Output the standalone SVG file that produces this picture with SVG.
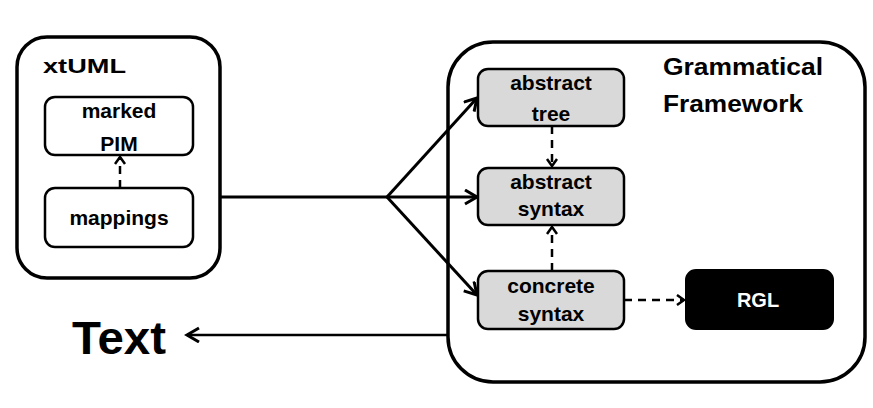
<svg xmlns="http://www.w3.org/2000/svg" width="873" height="408" viewBox="0 0 873 408">
<style>
  text { font-family: "Liberation Sans", Arial, sans-serif; font-weight: bold; fill: #000; }
  .lbl { text-anchor: middle; }
  .outer { fill: #fff; stroke: #000; stroke-width: 3.5; }
  .inner { fill: #fff; stroke: #000; stroke-width: 2.5; }
  .gf { fill: #d9d9d9; stroke: #000; stroke-width: 2.5; }
  .solid { fill: none; stroke: #000; stroke-width: 3; }
  .dash { fill: none; stroke: #000; stroke-width: 2.5; stroke-dasharray: 8 6; }
</style>
<defs>
  <marker id="ah" markerUnits="userSpaceOnUse" markerWidth="20" markerHeight="20" refX="13" refY="8" orient="auto">
    <path d="M1,1 L13,8 L1,15" fill="none" stroke="#000" stroke-width="3"/>
  </marker>
  <marker id="ahs" markerUnits="userSpaceOnUse" markerWidth="14" markerHeight="14" refX="8" refY="6" orient="auto">
    <path d="M1,1 L8,6 L1,11" fill="none" stroke="#000" stroke-width="2.5"/>
  </marker>
</defs>

<g id="xtuml">
  <rect class="outer" x="17" y="37" width="203" height="241" rx="30"/>
  <text x="43" y="73" font-size="21" textLength="83" lengthAdjust="spacingAndGlyphs">xtUML</text>
</g>
<g id="gf">
  <rect class="outer" x="448" y="42" width="417" height="340" rx="45"/>
  <text x="663" y="75" font-size="24" textLength="160" lengthAdjust="spacingAndGlyphs">Grammatical</text>
  <text x="663" y="112" font-size="24" textLength="140" lengthAdjust="spacingAndGlyphs">Framework</text>
</g>

<g id="connectors">
  <path class="solid" d="M220,197 H387"/>
  <path class="solid" d="M387,197 L477,98" marker-end="url(#ah)"/>
  <path class="solid" d="M387,197 L477,197" marker-end="url(#ah)"/>
  <path class="solid" d="M387,197 L477,295" marker-end="url(#ah)"/>
  <path class="dash" d="M120,188 V157" marker-end="url(#ahs)"/>
  <path class="dash" d="M552,126 V166" marker-end="url(#ahs)"/>
  <path class="dash" d="M552,271 V227" marker-end="url(#ahs)"/>
  <path class="dash" d="M624,300 H684" marker-end="url(#ahs)"/>
  <path class="solid" style="stroke-width:2.5" d="M448,335 H187" marker-end="url(#ah)"/>
</g>

<g id="marked-pim">
  <rect class="inner" x="45" y="97" width="148" height="58" rx="10"/>
  <text class="lbl" x="119" y="118" font-size="21">marked</text>
  <text class="lbl" x="119" y="151" font-size="21">PIM</text>
</g>
<g id="mappings">
  <rect class="inner" x="45" y="188" width="148" height="59" rx="10"/>
  <text class="lbl" x="119" y="225" font-size="21">mappings</text>
</g>
<g id="abstract-tree">
  <rect class="gf" x="478" y="69" width="146" height="57" rx="10"/>
  <text class="lbl" x="551" y="90" font-size="21">abstract</text>
  <text class="lbl" x="551" y="121" font-size="21">tree</text>
</g>
<g id="abstract-syntax">
  <rect class="gf" x="478" y="168" width="146" height="57" rx="10"/>
  <text class="lbl" x="551" y="189" font-size="21">abstract</text>
  <text class="lbl" x="551" y="216" font-size="21">syntax</text>
</g>
<g id="concrete-syntax">
  <rect class="gf" x="478" y="271" width="146" height="58" rx="10"/>
  <text class="lbl" x="551" y="293" font-size="21">concrete</text>
  <text class="lbl" x="551" y="321" font-size="21">syntax</text>
</g>
<g id="rgl">
  <rect x="686" y="270" width="147" height="59" rx="10" fill="#000" stroke="#000" stroke-width="2"/>
  <text class="lbl" x="758" y="307" font-size="20" style="fill:#fff">RGL</text>
</g>
<g id="text-node">
  <text x="72" y="354" font-size="46" textLength="94" lengthAdjust="spacingAndGlyphs">Text</text>
</g>
</svg>
